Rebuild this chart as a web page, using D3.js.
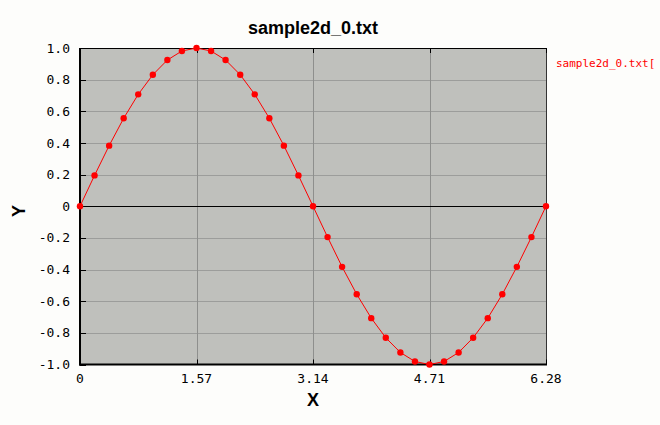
<!DOCTYPE html>
<html><head><meta charset="utf-8">
<script src="https://cdn.jsdelivr.net/npm/d3@7"></script>
<style>html,body{margin:0;padding:0;background:#fdfdfb;}</style>
</head><body>
<svg id="c" width="660" height="425"></svg>
<script>
const xValues = [0, 0.196, 0.393, 0.589, 0.785, 0.982, 1.178, 1.374, 1.571, 1.767, 1.963, 2.160, 2.356, 2.553, 2.749, 2.945, 3.142, 3.338, 3.534, 3.731, 3.927, 4.123, 4.320, 4.516, 4.712, 4.909, 5.105, 5.301, 5.498, 5.694, 5.890, 6.087, 6.283];
const yValues = [0, 0.195, 0.383, 0.556, 0.707, 0.831, 0.924, 0.981, 1.0, 0.981, 0.924, 0.831, 0.707, 0.556, 0.383, 0.195, 0, -0.195, -0.383, -0.556, -0.707, -0.831, -0.924, -0.981, -1.0, -0.981, -0.924, -0.831, -0.707, -0.556, -0.383, -0.195, 0];
const xTickValues = [0, 1.5708, 3.1416, 4.7124, 6.2832];
const xTickLabels = ["0", "1.57", "3.14", "4.71", "6.28"];
const yTickValues = [1.0, 0.8, 0.6, 0.4, 0.2, 0, -0.2, -0.4, -0.6, -0.8, -1.0];
const yTickLabels = ["1.0", "0.8", "0.6", "0.4", "0.2", "0", "-0.2", "-0.4", "-0.6", "-0.8", "-1.0"];
const title = "sample2d_0.txt";
const legendLabel = "sample2d_0.txt[";

const svg = d3.select("#c");
const L = 80, R = 546, T = 48, B = 364.5;
const x = d3.scaleLinear().domain([0, 6.2832]).range([L, R]);
const y = d3.scaleLinear().domain([-1, 1]).range([B, T]);
const mono = "'DejaVu Sans Mono', 'Liberation Mono', monospace";

svg.append("rect").attr("x", L).attr("y", T).attr("width", R - L).attr("height", B - T).attr("fill", "#bfc0bc");

// grid
svg.append("g").selectAll("line").data(yTickValues.filter(v => v !== 0 && Math.abs(v) !== 1)).join("line")
  .attr("x1", L).attr("x2", R).attr("y1", d => Math.round(y(d)) + 0.5).attr("y2", d => Math.round(y(d)) + 0.5)
  .attr("stroke", "#9c9d9b").attr("stroke-width", 1);
svg.append("g").selectAll("line").data(xTickValues.slice(1, -1)).join("line")
  .attr("y1", T).attr("y2", B).attr("x1", d => Math.round(x(d)) + 0.5).attr("x2", d => Math.round(x(d)) + 0.5)
  .attr("stroke", "#8e8f8d").attr("stroke-width", 1);
// zero line
svg.append("line").attr("x1", L).attr("x2", R).attr("y1", Math.round(y(0)) + 0.5).attr("y2", Math.round(y(0)) + 0.5)
  .attr("stroke", "#000").attr("stroke-width", 1);

// border
svg.append("line").attr("x1", L).attr("x2", R).attr("y1", T + 0.5).attr("y2", T + 0.5).attr("stroke", "#000");
svg.append("line").attr("x1", R + 0.5).attr("x2", R + 0.5).attr("y1", T).attr("y2", B).attr("stroke", "#333");

// ticks inside
svg.append("g").selectAll("line").data(yTickValues).join("line")
  .attr("x1", L).attr("x2", L + 6).attr("y1", d => Math.round(y(d)) + 0.5).attr("y2", d => Math.round(y(d)) + 0.5)
  .attr("stroke", "#000");
svg.append("g").selectAll("line").data(xTickValues).join("line")
  .attr("y1", B).attr("y2", B - 5).attr("x1", d => Math.round(x(d)) + 0.5).attr("x2", d => Math.round(x(d)) + 0.5)
  .attr("stroke", "#000");
svg.append("g").selectAll("line").data(xTickValues).join("line")
  .attr("y1", T).attr("y2", T + 5).attr("x1", d => Math.round(x(d)) + 0.5).attr("x2", d => Math.round(x(d)) + 0.5)
  .attr("stroke", "#000");

// axes lines
svg.append("line").attr("x1", L).attr("x2", L).attr("y1", T).attr("y2", B + 1).attr("stroke", "#000").attr("stroke-width", 2);
svg.append("line").attr("x1", L - 1).attr("x2", R + 1).attr("y1", B).attr("y2", B).attr("stroke", "#000").attr("stroke-width", 2);

// tick labels
svg.append("g").selectAll("text").data(yTickValues).join("text")
  .attr("x", 70).attr("y", d => y(d)).attr("dy", "0.35em").attr("text-anchor", "end")
  .attr("font-family", mono).attr("font-size", 13).attr("fill", "#000")
  .text((d, i) => yTickLabels[i]);
svg.append("g").selectAll("text").data(xTickValues).join("text")
  .attr("x", d => x(d)).attr("y", 383).attr("text-anchor", "middle")
  .attr("font-family", mono).attr("font-size", 13).attr("fill", "#000")
  .text((d, i) => xTickLabels[i]);

// titles
svg.append("text").attr("x", 313).attr("y", 34).attr("text-anchor", "middle")
  .attr("font-family", "'Liberation Sans', Arial, sans-serif").attr("font-weight", "bold").attr("font-size", 18).text(title);
svg.append("text").attr("x", 313).attr("y", 406).attr("text-anchor", "middle")
  .attr("font-family", "'Liberation Sans', Arial, sans-serif").attr("font-weight", "bold").attr("font-size", 18).text("X");
svg.append("text").attr("transform", "translate(25,211) rotate(-90)").attr("text-anchor", "middle")
  .attr("font-family", "'Liberation Sans', Arial, sans-serif").attr("font-weight", "bold").attr("font-size", 18).text("Y");

// series
const data = xValues.map((v, i) => [v, yValues[i]]);
svg.append("path").datum(data).attr("fill", "none").attr("stroke", "#ff0000").attr("stroke-width", 1)
  .attr("d", d3.line().x(d => x(d[0])).y(d => y(d[1])));
svg.append("g").selectAll("circle").data(data).join("circle")
  .attr("cx", d => x(d[0])).attr("cy", d => y(d[1])).attr("r", 3.2).attr("fill", "#ff0000");

// legend
svg.append("text").attr("x", 556).attr("y", 67).attr("font-family", mono).attr("font-size", 11)
  .attr("fill", "#ff0000").text(legendLabel);
</script>
</body></html>
